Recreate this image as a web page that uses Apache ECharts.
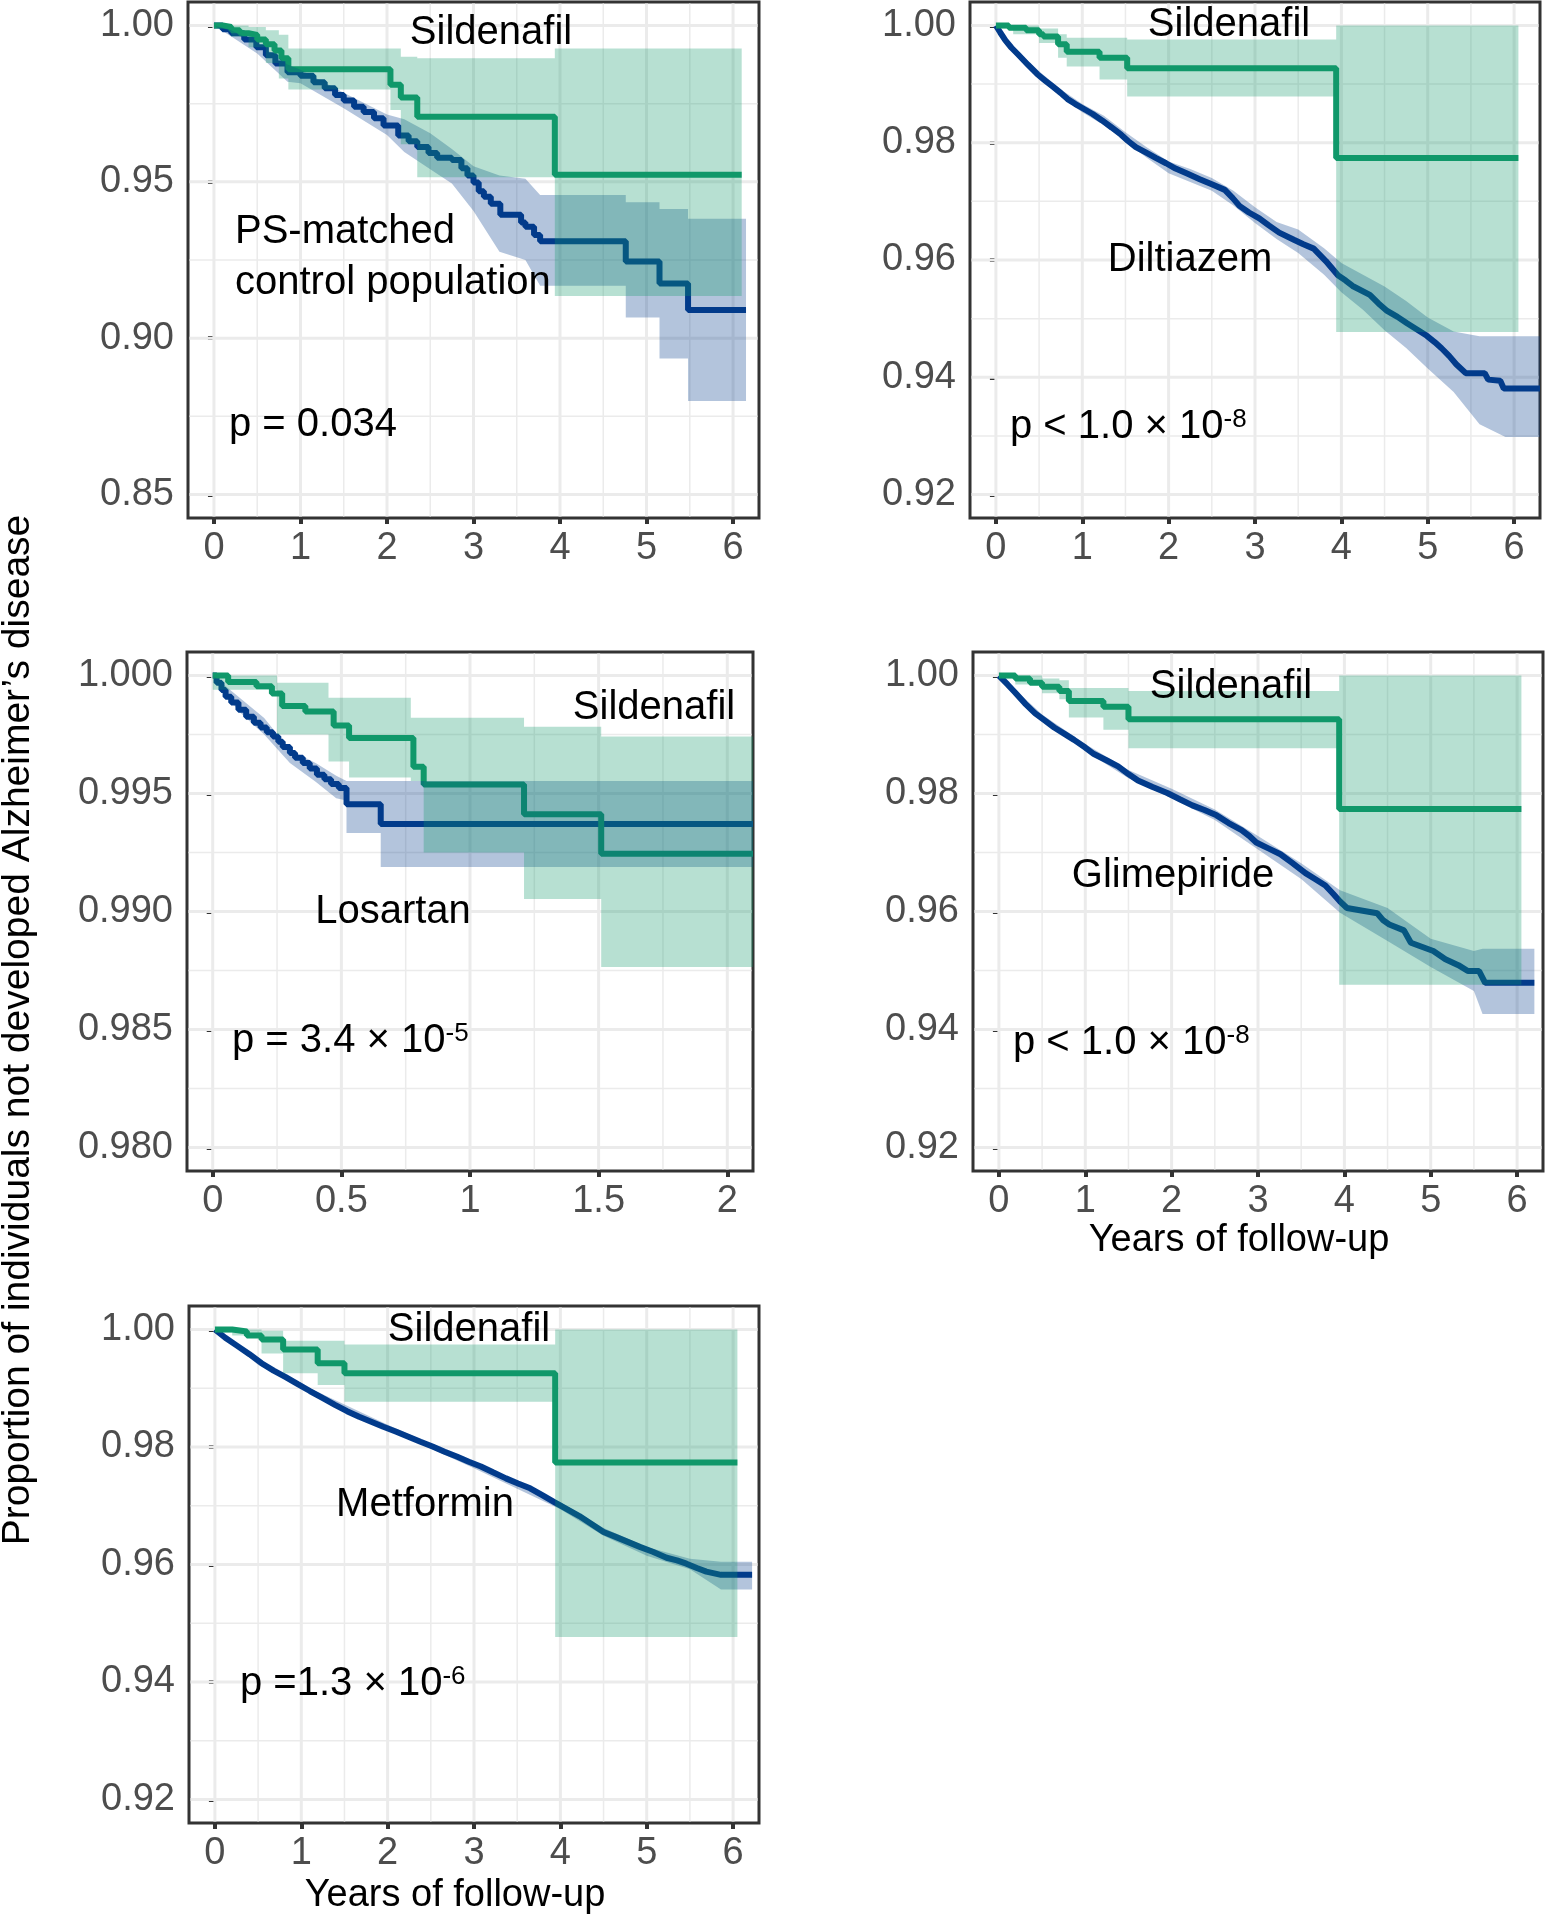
<!DOCTYPE html>
<html>
<head>
<meta charset="utf-8">
<script src="https://cdn.jsdelivr.net/npm/echarts@6.0.0/dist/echarts.min.js"></script>
<style>
  html, body { margin: 0; padding: 0; background: #fff; }
  #chart { width: 1545px; height: 1914px; }
</style>
</head>
<body>
<div id="chart"></div>
<script>
// ---- tick breaks ----
var yearTicks = [0, 1, 2, 3, 4, 5, 6];
var yearMinor = [0.5, 1.5, 2.5, 3.5, 4.5, 5.5];
var losYearTicks = [0, 0.5, 1, 1.5, 2];
var losYearMinor = [0.25, 0.75, 1.25, 1.75];
var psTicks = [0.85, 0.90, 0.95, 1.00];
var psMinor = [0.875, 0.925, 0.975];
var highTicks = [0.92, 0.94, 0.96, 0.98, 1.00];
var highMinor = [0.93, 0.95, 0.97, 0.99];
var losTicks = [0.980, 0.985, 0.990, 0.995, 1.000];
var losMinor = [0.9825, 0.9875, 0.9925, 0.9975];

// ---- panel 1: sildenafil vs PS-matched control ----
// curves: [years, survival]; bands: [years, lower, upper]
var p1Sil = [[0,1.0],[0.1,0.9995],[0.2,0.9985],[0.3,0.9975],[0.4,0.997],[0.5,0.9955],[0.6,0.994],[0.7,0.992],[0.78,0.9895],[0.86,0.986],[2.04,0.981],[2.16,0.977],[2.35,0.9708],[3.94,0.9523],[6.1,0.9523]];
var p1SilCI = [[0,0.9995,1.0],[0.2,0.9965,1.0],[0.4,0.993,0.9995],[0.6,0.988,0.9985],[0.75,0.983,0.997],[0.86,0.9795,0.9926],[2.04,0.973,0.9926],[2.16,0.962,0.990],[2.35,0.9515,0.9895],[3.94,0.9135,0.9926],[6.1,0.9135,0.9926]];
var p1Ctrl = [[0,1.0],[0.1,0.9988],[0.2,0.9975],[0.35,0.9955],[0.49,0.993],[0.6,0.9905],[0.71,0.9878],[0.85,0.985],[1.0,0.9839],[1.15,0.9818],[1.28,0.9799],[1.4,0.9778],[1.5,0.976],[1.62,0.974],[1.73,0.9723],[1.85,0.9703],[1.96,0.968],[2.13,0.9648],[2.25,0.963],[2.35,0.9611],[2.48,0.9592],[2.58,0.9577],[2.75,0.957],[2.86,0.9543],[2.93,0.952],[3.0,0.9498],[3.06,0.947],[3.12,0.9452],[3.2,0.943],[3.31,0.9395],[3.55,0.937],[3.6,0.9356],[3.7,0.933],[3.77,0.931],[4.76,0.9245],[5.15,0.9175],[5.48,0.909],[6.15,0.909]];
var p1CtrlCI = [[0,1.0,1.0],[0.2,0.9965,0.9985],[0.5,0.991,0.9945],[0.85,0.982,0.9875],[1.0,0.9815,0.9858],[1.5,0.9735,0.9785],[2.0,0.965,0.9715],[2.2,0.9595,0.970],[2.5,0.954,0.9655],[2.75,0.9495,0.9605],[3.0,0.9407,0.955],[3.3,0.9276,0.952],[3.6,0.925,0.951],[3.77,0.9168,0.9458],[4.76,0.9168,0.9458],[4.76,0.9066,0.9435],[5.15,0.9066,0.9435],[5.15,0.8935,0.9413],[5.48,0.8935,0.9413],[5.48,0.8799,0.9382],[6.15,0.8799,0.9382]];

// ---- panel 2: sildenafil vs diltiazem ----
var p2Sil = [[0,1.0],[0.15,0.9996],[0.35,0.9992],[0.5,0.9985],[0.55,0.9981],[0.72,0.9968],[0.82,0.9955],[1.2,0.9945],[1.52,0.9927],[3.94,0.9774],[6.05,0.9774]];
var p2SilCI = [[0,0.9995,1.0],[0.2,0.9985,1.0],[0.5,0.997,0.9995],[0.72,0.9945,0.9985],[0.82,0.993,0.9979],[1.2,0.9908,0.9979],[1.52,0.9879,0.9976],[3.94,0.9477,1.0],[6.05,0.9477,1.0]];
var p2Ctrl = [[0,1.0],[0.05,0.9988],[0.11,0.99745],[0.18,0.9962],[0.26,0.995],[0.37,0.9933],[0.48,0.99168],[0.57,0.9906],[0.66,0.98956],[0.75,0.9885],[0.83,0.98744],[0.92,0.9866],[1.0,0.98592],[1.12,0.9849],[1.23,0.9838],[1.34,0.9826],[1.45,0.98137],[1.53,0.9803],[1.62,0.97924],[1.74,0.9783],[1.85,0.97742],[1.97,0.9765],[2.08,0.9756],[2.22,0.9747],[2.36,0.97378],[2.5,0.9729],[2.65,0.97196],[2.74,0.9706],[2.82,0.96923],[2.93,0.9681],[3.05,0.9671],[3.16,0.9659],[3.28,0.96467],[3.45,0.96346],[3.56,0.9627],[3.68,0.96194],[3.82,0.95982],[3.96,0.95739],[4.05,0.9565],[4.13,0.95557],[4.33,0.95405],[4.43,0.9526],[4.53,0.95132],[4.65,0.9503],[4.76,0.9492],[4.88,0.9481],[4.99,0.94707],[5.08,0.946],[5.16,0.94495],[5.25,0.9436],[5.33,0.94222],[5.44,0.9407],[5.66,0.9407],[5.7,0.9396],[5.84,0.9394],[5.88,0.9381],[6.3,0.9381]];
var p2CtrlCI = [[0,1.0,1.0],[0.1,0.997,0.998],[0.25,0.9945,0.9956],[0.5,0.991,0.9922],[0.75,0.9878,0.9891],[1.0,0.9852,0.9866],[1.25,0.983,0.9846],[1.5,0.9802,0.9818],[1.75,0.9774,0.9792],[2.0,0.9748,0.9768],[2.25,0.9733,0.9755],[2.5,0.9718,0.974],[2.75,0.9693,0.9718],[3.0,0.9663,0.969],[3.25,0.9636,0.9665],[3.5,0.9612,0.9652],[3.8,0.9575,0.962],[4.0,0.9545,0.9595],[4.25,0.9515,0.9575],[4.5,0.948,0.9555],[4.75,0.945,0.953],[5.0,0.9415,0.9502],[5.3,0.9375,0.9478],[5.6,0.932,0.947],[5.9,0.9298,0.947],[6.3,0.9298,0.947]];

// ---- panel 3: sildenafil vs losartan ----
var p3Sil = [[0,1.0],[0.06,0.99973],[0.17,0.99955],[0.23,0.99924],[0.27,0.99871],[0.36,0.99848],[0.47,0.99788],[0.53,0.99735],[0.78,0.99614],[0.82,0.99538],[1.21,0.99412],[1.51,0.99245],[2.1,0.99245]];
var p3SilCI = [[0,0.9994,1.0],[0.25,0.9975,0.9997],[0.45,0.99636,0.99906],[0.53,0.99568,0.99906],[0.77,0.99553,0.99821],[0.82,0.9925,0.99821],[1.21,0.99053,0.99783],[1.51,0.98765,0.99742],[2.1,0.98765,0.99742]];
var p3Ctrl = [[0,1.0],[0.015,0.9997],[0.034,0.99939],[0.05,0.9991],[0.072,0.99886],[0.1,0.99855],[0.13,0.99826],[0.16,0.998],[0.186,0.9978],[0.21,0.9976],[0.234,0.99742],[0.255,0.9972],[0.272,0.99697],[0.3,0.99672],[0.32,0.99652],[0.35,0.9963],[0.377,0.99606],[0.405,0.9958],[0.434,0.99561],[0.46,0.9954],[0.49,0.99523],[0.52,0.99455],[0.653,0.99371],[2.1,0.99371]];
var p3CtrlCI = [[0,1.0,1.0],[0.1,0.9985,0.9991],[0.2,0.9975,0.9982],[0.3,0.9963,0.99685],[0.4,0.9955,0.9963],[0.48,0.9948,0.99575],[0.52,0.9947,0.99553],[0.52,0.99333,0.99553],[0.653,0.99333,0.99553],[0.653,0.99189,0.99553],[2.1,0.99189,0.99553]];

// ---- panel 4: sildenafil vs glimepiride ----
var p4Sil = [[0,1.0],[0.19,0.9995],[0.36,0.9988],[0.5,0.9981],[0.7,0.9974],[0.81,0.9957],[1.21,0.9947],[1.5,0.9926],[3.94,0.9774],[6.05,0.9774]];
var p4SilCI = [[0,0.9995,1.0],[0.19,0.9985,1.0],[0.5,0.997,0.9995],[0.7,0.996,0.9992],[0.81,0.9929,0.9979],[1.21,0.9908,0.9979],[1.5,0.9877,0.9974],[3.94,0.9476,1.0],[6.05,0.9476,1.0]];
var p4Ctrl = [[0,1.0],[0.1,0.9985],[0.19,0.9971],[0.3,0.9953],[0.42,0.9936],[0.53,0.9924],[0.64,0.9912],[0.75,0.9902],[0.87,0.9891],[1.0,0.9878],[1.1,0.9867],[1.25,0.9856],[1.38,0.9846],[1.5,0.9833],[1.61,0.9822],[1.78,0.9811],[1.95,0.9801],[2.1,0.979],[2.24,0.978],[2.38,0.9772],[2.52,0.9763],[2.66,0.975],[2.81,0.9738],[2.9,0.9728],[2.98,0.9717],[3.12,0.9707],[3.26,0.9697],[3.4,0.9682],[3.55,0.9665],[3.66,0.9655],[3.78,0.9644],[3.87,0.963],[3.95,0.9617],[4.03,0.9606],[4.38,0.9597],[4.45,0.9585],[4.52,0.9578],[4.69,0.9568],[4.77,0.9547],[5.03,0.9533],[5.17,0.9519],[5.32,0.9509],[5.43,0.9499],[5.56,0.9499],[5.63,0.9479],[6.2,0.9479]];
var p4CtrlCI = [[0,1.0,1.0],[0.25,0.996,0.9968],[0.5,0.9925,0.9934],[1.0,0.9872,0.9884],[1.5,0.9826,0.984],[2.0,0.9792,0.9808],[2.5,0.9755,0.9773],[3.0,0.9705,0.9728],[3.5,0.9655,0.9682],[3.95,0.9598,0.9636],[4.5,0.955,0.9606],[5.0,0.9506,0.9554],[5.5,0.9465,0.9533],[5.6,0.9426,0.9537],[6.2,0.9426,0.9537]];

// ---- panel 5: sildenafil vs metformin ----
var p5Sil = [[0,1.0],[0.2,0.99966],[0.37,0.999],[0.54,0.9983],[0.79,0.9966],[1.19,0.99426],[1.5,0.99257],[3.94,0.97736],[6.05,0.97736]];
var p5SilCI = [[0,0.9995,1.0],[0.2,0.999,1.0],[0.54,0.9959,0.9998],[0.79,0.99257,0.9981],[1.19,0.99054,0.9981],[1.5,0.9877,0.99743],[3.94,0.94764,1.0],[6.05,0.94764,1.0]];
var p5Ctrl = [[0,1.0],[0.12,0.9986],[0.25,0.9973],[0.4,0.9958],[0.54,0.99426],[0.68,0.993],[0.82,0.99189],[0.96,0.9907],[1.1,0.98953],[1.25,0.9883],[1.39,0.98716],[1.53,0.9861],[1.67,0.98514],[1.81,0.9843],[1.95,0.98345],[2.1,0.9826],[2.24,0.98176],[2.38,0.9809],[2.52,0.98007],[2.66,0.9792],[2.8,0.97838],[2.94,0.9775],[3.08,0.97669],[3.22,0.9757],[3.37,0.97466],[3.51,0.9738],[3.65,0.97297],[3.79,0.9718],[3.93,0.97061],[4.08,0.9694],[4.22,0.96824],[4.36,0.9669],[4.5,0.96554],[4.64,0.9647],[4.78,0.96385],[4.92,0.963],[5.07,0.96216],[5.23,0.96115],[5.35,0.9607],[5.46,0.96014],[5.58,0.9594],[5.69,0.95878],[5.86,0.95824],[6.22,0.95824]];
var p5CtrlCI = [[0,1.0,1.0],[0.5,0.994,0.9946],[1.0,0.9901,0.9907],[2.0,0.9831,0.9838],[3.0,0.9764,0.9773],[4.0,0.9694,0.9706],[4.5,0.9649,0.9662],[5.0,0.9615,0.963],[5.5,0.9592,0.961],[5.86,0.95574,0.96047],[6.22,0.95574,0.96047]];

// ---- styling ----
var FONT = '"Liberation Sans", Arial, Helvetica, sans-serif';
var GREEN = '#10996b', BLUE = '#023b8c';
var GREEN_FILL = 'rgba(16,153,107,0.3)', BLUE_FILL = 'rgba(2,59,140,0.3)';

var panels = [
  { box: [188, 2, 571, 516], x: [-0.3, 6.3], y: [0.8425, 1.0075], xt: yearTicks, xm: yearMinor, yt: psTicks, ym: psMinor, dec: 2,
    sil: p1Sil, silCI: p1SilCI, ctl: p1Ctrl, ctlCI: p1CtrlCI, ctlStep: true },
  { box: [970, 2, 570, 516], x: [-0.3, 6.3], y: [0.916, 1.004], xt: yearTicks, xm: yearMinor, yt: highTicks, ym: highMinor, dec: 2,
    sil: p2Sil, silCI: p2SilCI, ctl: p2Ctrl, ctlCI: p2CtrlCI, ctlStep: false },
  { box: [187, 652, 566, 519], x: [-0.1, 2.1], y: [0.979, 1.001], xt: losYearTicks, xm: losYearMinor, yt: losTicks, ym: losMinor, dec: 3,
    sil: p3Sil, silCI: p3SilCI, ctl: p3Ctrl, ctlCI: p3CtrlCI, ctlStep: true },
  { box: [973, 652, 570, 519], x: [-0.3, 6.3], y: [0.916, 1.004], xt: yearTicks, xm: yearMinor, yt: highTicks, ym: highMinor, dec: 2,
    sil: p4Sil, silCI: p4SilCI, ctl: p4Ctrl, ctlCI: p4CtrlCI, ctlStep: false },
  { box: [189, 1306, 570, 517], x: [-0.3, 6.3], y: [0.916, 1.004], xt: yearTicks, xm: yearMinor, yt: highTicks, ym: highMinor, dec: 2,
    sil: p5Sil, silCI: p5SilCI, ctl: p5Ctrl, ctlCI: p5CtrlCI, ctlStep: false }
];

// polygon of a confidence band, through the axis scales
function bandPoints(api, rows, step) {
  var upper = [], lower = [];
  for (var i = 0; i < rows.length; i++) {
    var r = rows[i];
    if (step && i > 0) {
      upper.push(api.coord([r[0], rows[i - 1][2]]));
      lower.push(api.coord([r[0], rows[i - 1][1]]));
    }
    upper.push(api.coord([r[0], r[2]]));
    lower.push(api.coord([r[0], r[1]]));
  }
  return upper.concat(lower.reverse());
}

function bandSeries(i, rows, fill, step) {
  return {
    type: 'custom', xAxisIndex: i, yAxisIndex: i, silent: true, z: 3,
    data: [rows[0]],
    renderItem: function (params, api) {
      return { type: 'polygon', shape: { points: bandPoints(api, rows, step) }, style: { fill: fill } };
    }
  };
}

function lineSeries(i, rows, color, step) {
  return {
    type: 'line', xAxisIndex: i, yAxisIndex: i, data: rows, step: step ? 'end' : false,
    showSymbol: false, symbol: 'none', silent: true, z: 2, clip: true,
    lineStyle: { color: color, width: 6 }
  };
}

// panel grid lines (major + minor) drawn at the break values
function gridLineSeries(i, p) {
  return {
    type: 'custom', xAxisIndex: i, yAxisIndex: i, silent: true, z: 1,
    data: [[p.x[0], p.y[0]]],
    renderItem: function (params, api) {
      var cs = params.coordSys, kids = [];
      function v(val, w) {
        var x = api.coord([val, p.y[0]])[0];
        kids.push({ type: 'line', shape: { x1: x, y1: cs.y + 1.5, x2: x, y2: cs.y + cs.height - 1.5 }, style: { stroke: '#ebebeb', lineWidth: w } });
      }
      function h(val, w) {
        var y = api.coord([p.x[0], val])[1];
        kids.push({ type: 'line', shape: { x1: cs.x + 1.5, y1: y, x2: cs.x + cs.width - 1.5, y2: y }, style: { stroke: '#ebebeb', lineWidth: w } });
      }
      p.xm.forEach(function (t) { v(t, 1.5); });
      p.ym.forEach(function (t) { h(t, 1.5); });
      p.xt.forEach(function (t) { v(t, 3); });
      p.yt.forEach(function (t) { h(t, 3); });
      return { type: 'group', children: kids };
    }
  };
}

var series = [];
panels.forEach(function (p, i) {
  series.push(gridLineSeries(i, p));
  series.push(lineSeries(i, p.ctl, BLUE, p.ctlStep));
  series.push(lineSeries(i, p.sil, GREEN, true));
  series.push(bandSeries(i, p.ctlCI, BLUE_FILL, false));
  series.push(bandSeries(i, p.silCI, GREEN_FILL, true));
});

function note(x, y, text, align) {
  return { type: 'text', x: x, y: y, silent: true, z: 100,
    style: { text: text, fill: '#000', fontSize: 40, fontFamily: FONT,
      align: align, verticalAlign: 'middle', textAlign: align, textVerticalAlign: 'middle' } };
}
function pNote(x, y, main, sup) {
  return { type: 'text', x: x, y: y, silent: true, z: 100,
    style: { text: '{m|' + main + '}{s|' + sup + '}', fill: '#000', fontSize: 40, fontFamily: FONT,
      align: 'left', verticalAlign: 'middle', textAlign: 'left', textVerticalAlign: 'middle',
      rich: {
        m: { fontSize: 40, fontFamily: FONT, fill: '#000', lineHeight: 40 },
        s: { fontSize: 26, fontFamily: FONT, fill: '#000', lineHeight: 16, verticalAlign: 'top' }
      } } };
}
function axisTitle(x, y, text, rot, size) {
  return { type: 'text', x: x, y: y, rotation: rot || 0, silent: true, z: 100,
    style: { text: text, fill: '#000', fontSize: size || 38, fontFamily: FONT,
      align: 'center', verticalAlign: 'middle', textAlign: 'center', textVerticalAlign: 'middle' } };
}

var graphics = [
  note(491, 33, 'Sildenafil', 'center'),
  note(235, 232, 'PS-matched', 'left'),
  note(235, 283, 'control population', 'left'),
  note(229, 425, 'p = 0.034', 'left'),

  note(1229, 25, 'Sildenafil', 'center'),
  note(1190, 260, 'Diltiazem', 'center'),
  pNote(1010, 427, 'p < 1.0 × 10', '-8'),

  note(654, 708, 'Sildenafil', 'center'),
  note(393, 912, 'Losartan', 'center'),
  pNote(232, 1041, 'p = 3.4 × 10', '-5'),

  note(1231, 687, 'Sildenafil', 'center'),
  note(1173, 876, 'Glimepiride', 'center'),
  pNote(1013, 1043, 'p < 1.0 × 10', '-8'),

  note(469, 1330, 'Sildenafil', 'center'),
  note(425, 1505, 'Metformin', 'center'),
  pNote(240, 1684, 'p =1.3 × 10', '-6'),

  axisTitle(1239, 1241, 'Years of follow-up'),
  axisTitle(455, 1896, 'Years of follow-up'),
  axisTitle(18, 1030, 'Proportion of individuals not developed Alzheimer\u2019s disease', Math.PI / 2, 39)
];

var option = {
  animation: false,
  backgroundColor: '#ffffff',
  grid: panels.map(function (p) {
    return { left: p.box[0], top: p.box[1], width: p.box[2], height: p.box[3], show: true,
      borderColor: '#333333', borderWidth: 3, backgroundColor: 'transparent',
      containLabel: false, outerBoundsMode: 'none' };
  }),
  xAxis: panels.map(function (p, i) {
    return { type: 'value', gridIndex: i, min: p.x[0], max: p.x[1],
      axisLine: { show: false },
      axisTick: { show: true, length: 6, customValues: p.xt, lineStyle: { color: '#333333', width: 4 } },
      axisLabel: { customValues: p.xt, color: '#4d4d4d', fontSize: 38, fontFamily: FONT, margin: 12 },
      splitLine: { show: false } };
  }),
  yAxis: panels.map(function (p, i) {
    return { type: 'value', gridIndex: i, min: p.y[0], max: p.y[1],
      axisLine: { show: false },
      axisTick: { show: true, length: 6, customValues: p.yt, lineStyle: { color: '#333333', width: 4 } },
      axisLabel: { customValues: p.yt, color: '#4d4d4d', fontSize: 38, fontFamily: FONT, margin: 14,
        formatter: function (v) { return v.toFixed(p.dec); } },
      splitLine: { show: false } };
  }),
  series: series,
  graphic: { elements: graphics }
};

var chart = echarts.init(document.getElementById('chart'), null, { renderer: 'canvas' });
chart.setOption(option);
</script>
</body>
</html>
